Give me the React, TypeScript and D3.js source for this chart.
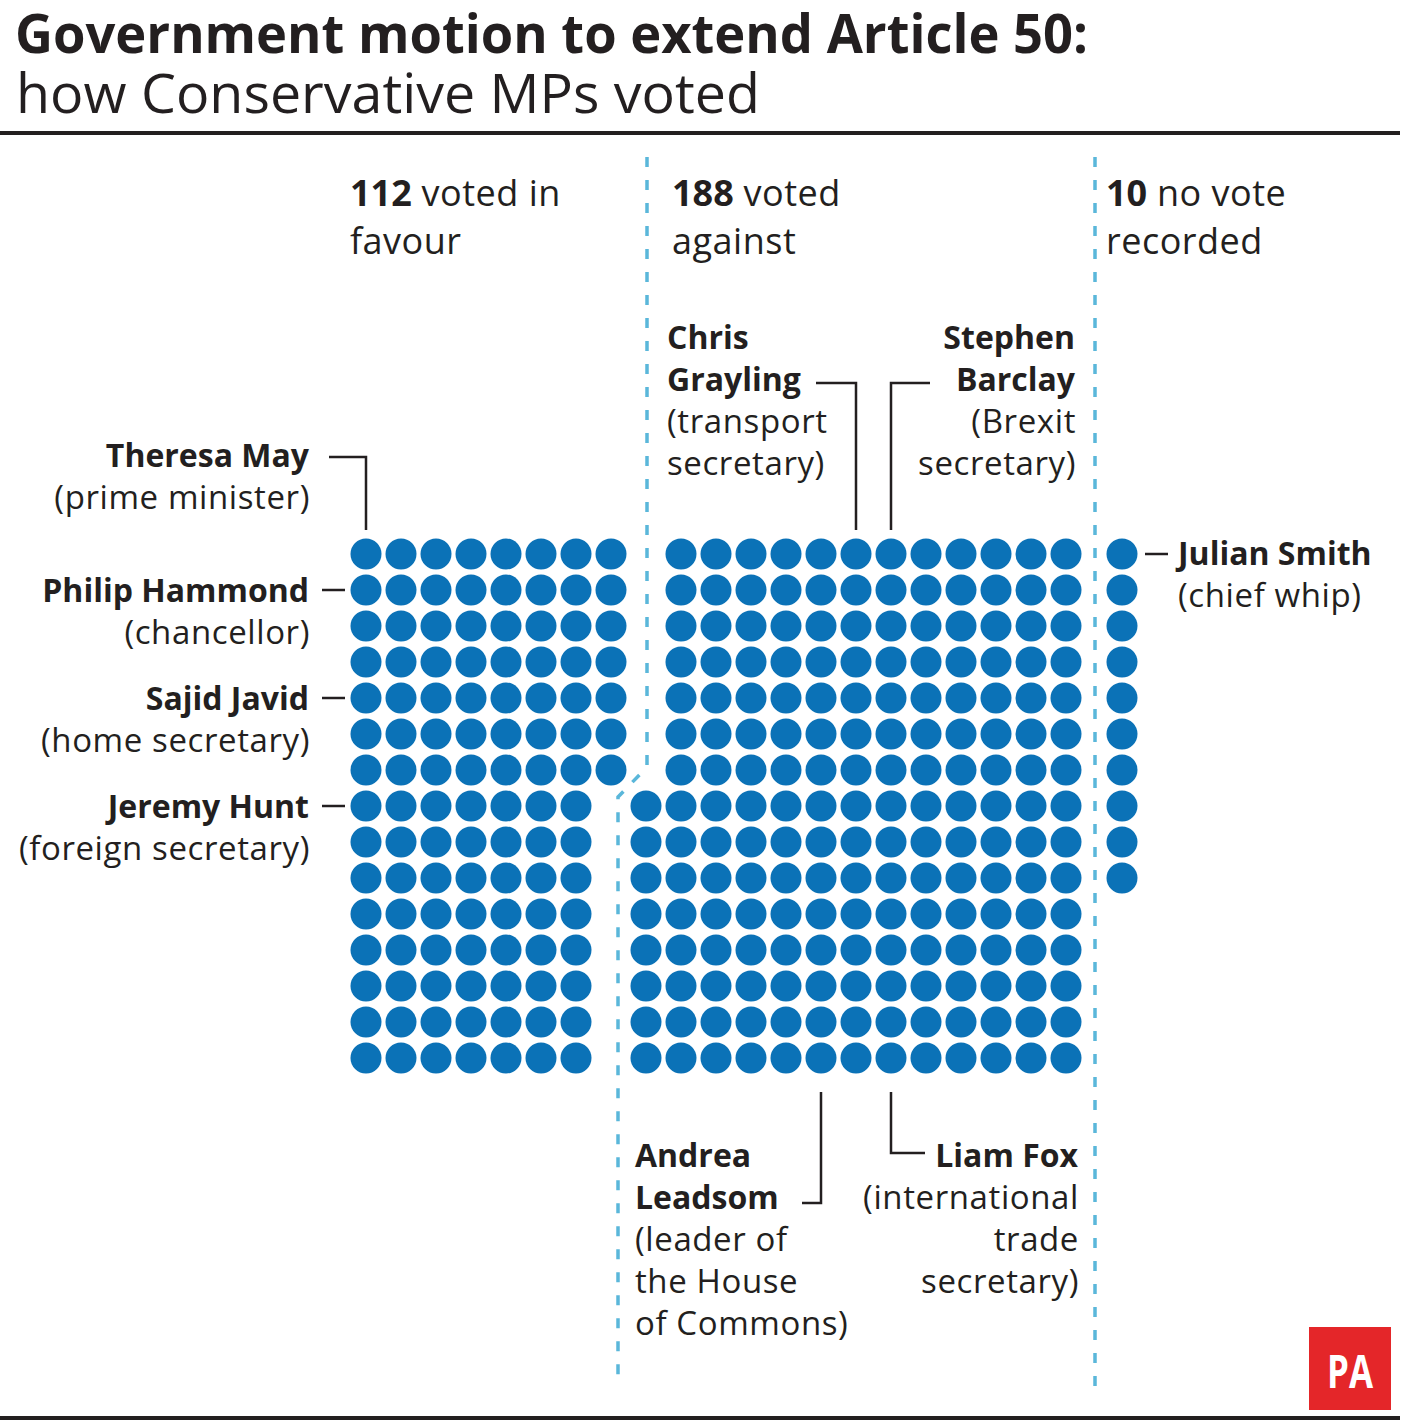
import React from "react";
import * as d3 from "d3";

// ---- Data ----
const groupNames = ["voted in favour", "voted against", "no vote recorded"];
const groupCounts = [112, 188, 10];
const headerBold = ["112", "188", "10"];
const headerRest1 = [" voted in", " voted", " no vote"];
const headerLine2 = ["favour", "against", "recorded"];

// grid layout rules (columns per row in top block / bottom block)
const topRows = 7;
const favourCols = [8, 7];
const againstCols = [12, 13];

type Ann = {
  name: string[];
  role: string[];
};
const leftNames: Ann[] = [
  { name: ["Theresa May"], role: ["(prime minister)"] },
  { name: ["Philip Hammond"], role: ["(chancellor)"] },
  { name: ["Sajid Javid"], role: ["(home secretary)"] },
  { name: ["Jeremy Hunt"], role: ["(foreign secretary)"] },
];
const leftRows = [0, 1, 4, 7];

const W = 1419;
const H = 1426;
const INK = "#231f20";
const BLUE = "#0b72b7";
const DASH = "#5ab7da";
const FONT = "'Open Sans', 'Noto Sans', sans-serif";

export default function App() {
  const x = d3.scaleLinear().domain([0, 20]).range([366, 1066]);
  const y = d3.scaleLinear().domain([0, 14]).range([554, 1058]);
  const xNoVote = 1122;
  const r = 15.5;

  const dots: { cx: number; cy: number; g: number }[] = [];
  // favour
  {
    let n = 0;
    for (let row = 0; row < 15 && n < groupCounts[0]; row++) {
      const cols = row < topRows ? favourCols[0] : favourCols[1];
      for (let c = 0; c < cols && n < groupCounts[0]; c++, n++) {
        dots.push({ cx: x(c), cy: y(row), g: 0 });
      }
    }
  }
  // against
  {
    let n = 0;
    for (let row = 0; row < 15 && n < groupCounts[1]; row++) {
      const cols = row < topRows ? againstCols[0] : againstCols[1];
      const start = 21 - cols;
      for (let c = 0; c < cols && n < groupCounts[1]; c++, n++) {
        dots.push({ cx: x(start + c), cy: y(row), g: 1 });
      }
    }
  }
  // no vote
  for (let i = 0; i < groupCounts[2]; i++) {
    dots.push({ cx: xNoVote, cy: y(i), g: 2 });
  }

  const headerX = [350, 672, 1106];
  const fsHead = 36;
  const fsAnn = 33;
  const fsBold = 32;
  const lh = 42;
  const ls = 0.6; // letter spacing for regular text

  const leftPath = d3.path();
  leftPath.moveTo(647, 157);
  leftPath.lineTo(647, 767);
  leftPath.lineTo(618, 797);
  leftPath.lineTo(618, 1386);

  const dashStyle = {
    stroke: DASH,
    strokeWidth: 3.5,
    strokeDasharray: "10 13",
    fill: "none",
  };

  const line = (pts: [number, number][]) => d3.line()(pts) || "";

  const Reg = (p: { x: number; y: number; children: string; anchor?: string }) => (
    <text x={p.x} y={p.y} letterSpacing={ls} textAnchor={p.anchor || "start"}>
      {p.children}
    </text>
  );
  const Bold = (p: { x: number; y: number; children: string; anchor?: string }) => (
    <text x={p.x} y={p.y} fontWeight={700} fontSize={fsBold} textAnchor={p.anchor || "start"}>
      {p.children}
    </text>
  );

  return (
    <svg
      width={W}
      height={H}
      style={{ position: "absolute", left: 0, top: 0, background: "#fff" }}
      fontFamily={FONT}
    >
      <rect x={0} y={0} width={W} height={H} fill="#fff" />
      {/* Title */}
      <text x={15} y={53} fontSize={53} fontWeight={700} fill={INK} textLength={1073} lengthAdjust="spacingAndGlyphs">
        Government motion to extend Article 50:
      </text>
      <text x={16} y={113} fontSize={54} fontWeight={400} fill={INK} textLength={744} lengthAdjust="spacingAndGlyphs">
        how Conservative MPs voted
      </text>
      <rect x={0} y={131} width={1400} height={4} fill={INK} />

      {/* separators */}
      <path d={leftPath.toString()} style={dashStyle} />
      <path d={line([[1095, 157], [1095, 1386]])} style={dashStyle} />

      {/* headers */}
      {groupNames.map((g, i) => (
        <g key={g} fontSize={fsHead} fill={INK}>
          <text x={headerX[i]} y={206}>
            <tspan fontWeight={700}>{headerBold[i]}</tspan>
            <tspan letterSpacing={0.5}>{headerRest1[i]}</tspan>
          </text>
          <text x={headerX[i]} y={254} letterSpacing={0.5}>{headerLine2[i]}</text>
        </g>
      ))}

      {/* dots */}
      {dots.map((d, i) => (
        <circle key={i} cx={d.cx} cy={d.cy} r={r} fill={BLUE} />
      ))}

      {/* left annotations */}
      <g fontSize={fsAnn} fill={INK}>
        {leftNames.map((a, i) => {
          const cy = y(leftRows[i]);
          const base = i === 0 ? 467 : cy + 12;
          return (
            <g key={i}>
              <Bold x={309} y={base} anchor="end">{a.name[0]}</Bold>
              <Reg x={310} y={base + lh} anchor="end">{a.role[0]}</Reg>
            </g>
          );
        })}
      </g>
      <g stroke={INK} strokeWidth={2.5} fill="none">
        <path d={line([[329, 457], [x(0), 457], [x(0), 530]])} />
        {leftRows.slice(1).map((row) => (
          <path key={row} d={line([[322, y(row)], [345, y(row)]])} />
        ))}
        {/* Grayling */}
        <path d={line([[816, 383], [x(14), 383], [x(14), 530]])} />
        {/* Barclay */}
        <path d={line([[930, 383], [x(15), 383], [x(15), 530]])} />
        {/* Julian Smith */}
        <path d={line([[1145, y(0)], [1168, y(0)]])} />
        {/* Leadsom */}
        <path d={line([[x(13), 1092], [x(13), 1203], [802, 1203]])} />
        {/* Fox */}
        <path d={line([[x(15), 1092], [x(15), 1153], [925, 1153]])} />
      </g>

      {/* top annotations */}
      <g fontSize={fsAnn} fill={INK}>
        <Bold x={667} y={349}>Chris</Bold>
        <Bold x={667} y={391}>Grayling</Bold>
        <Reg x={667} y={433}>(transport</Reg>
        <Reg x={667} y={475}>secretary)</Reg>
        <Bold x={1075} y={349} anchor="end">Stephen</Bold>
        <Bold x={1075} y={391} anchor="end">Barclay</Bold>
        <Reg x={1076} y={433} anchor="end">(Brexit</Reg>
        <Reg x={1076} y={475} anchor="end">secretary)</Reg>

        <Bold x={1178} y={565}>Julian Smith</Bold>
        <Reg x={1178} y={607}>(chief whip)</Reg>

        <Bold x={635} y={1167}>Andrea</Bold>
        <Bold x={635} y={1209}>Leadsom</Bold>
        <Reg x={635} y={1251}>(leader of</Reg>
        <Reg x={635} y={1293}>the House</Reg>
        <Reg x={635} y={1335}>of Commons)</Reg>
        <Bold x={1078} y={1167} anchor="end">Liam Fox</Bold>
        <Reg x={1079} y={1209} anchor="end">(international</Reg>
        <Reg x={1079} y={1251} anchor="end">trade</Reg>
        <Reg x={1079} y={1293} anchor="end">secretary)</Reg>
      </g>

      {/* PA logo */}
      <rect x={1309} y={1327} width={82} height={83} fill="#e42629" />
      <text x={1350} y={1388} fontSize={46} fontWeight={700} fill="#fff" textAnchor="middle" textLength={46} lengthAdjust="spacingAndGlyphs">
        PA
      </text>

      <rect x={0} y={1416} width={1400} height={4} fill={INK} />
    </svg>
  );
}
